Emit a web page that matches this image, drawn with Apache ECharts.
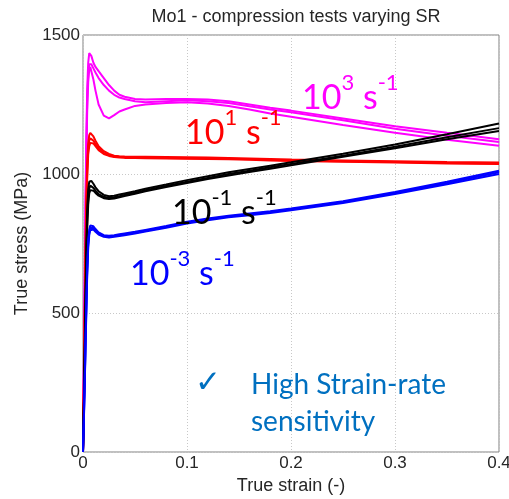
<!DOCTYPE html>
<html>
<head>
<meta charset="utf-8">
<script src="https://cdn.jsdelivr.net/npm/echarts@6/dist/echarts.min.js"></script>
<style>html,body{margin:0;padding:0;background:#fff}#c{width:509px;height:499px}</style>
</head>
<body>
<div id="c"></div>
<script>
// True strain (-)
var strain = [0, 0.001, 0.002, 0.003, 0.004, 0.005, 0.006, 0.007, 0.008, 0.01, 0.012, 0.015, 0.02, 0.025, 0.03, 0.035, 0.04, 0.05, 0.06, 0.08, 0.1, 0.12, 0.14, 0.16, 0.18, 0.2, 0.25, 0.3, 0.35, 0.4];
// True stress (MPa), 10^3 s^-1
var sr1e3_a = [0, 380, 760, 1080, 1300, 1400, 1435, 1440, 1425, 1400, 1385, 1370, 1345, 1320, 1300, 1285, 1278, 1270, 1268, 1270, 1270, 1268, 1262, 1250, 1238, 1228, 1200, 1172, 1148, 1125];
var sr1e3_b = [0, 350, 720, 1040, 1260, 1360, 1395, 1400, 1395, 1380, 1365, 1345, 1320, 1300, 1285, 1275, 1270, 1262, 1258, 1262, 1265, 1262, 1255, 1244, 1232, 1222, 1193, 1163, 1138, 1115];
var sr1e3_c = [0, 330, 680, 1000, 1220, 1330, 1375, 1385, 1370, 1340, 1300, 1250, 1210, 1200, 1212, 1225, 1232, 1245, 1250, 1255, 1258, 1254, 1245, 1232, 1218, 1206, 1176, 1148, 1123, 1102];
// 10^1 s^-1
var sr1e1_a = [0, 300, 620, 880, 1040, 1110, 1140, 1148, 1145, 1135, 1120, 1100, 1082, 1072, 1066, 1064, 1063, 1062, 1062, 1061, 1060, 1059, 1058, 1056, 1054, 1052, 1049, 1046, 1043, 1041];
var sr1e1_b = [0, 280, 580, 840, 1010, 1090, 1120, 1128, 1128, 1120, 1108, 1092, 1076, 1068, 1063, 1061, 1060, 1060, 1059, 1058, 1057, 1056, 1055, 1053, 1051, 1049, 1046, 1043, 1040, 1038];
var sr1e1_c = [0, 260, 550, 800, 980, 1070, 1100, 1112, 1115, 1110, 1100, 1086, 1072, 1065, 1061, 1059, 1058, 1058, 1057, 1056, 1055, 1054, 1053, 1051, 1049, 1047, 1044, 1041, 1038, 1036];
// 10^-1 s^-1
var sr1em1_a = [0, 220, 460, 700, 870, 945, 972, 978, 975, 965, 952, 938, 925, 920, 922, 926, 930, 938, 947, 962, 978, 992, 1006, 1018, 1030, 1042, 1073, 1106, 1143, 1182];
var sr1em1_b = [0, 200, 430, 660, 830, 915, 948, 958, 958, 950, 940, 928, 918, 914, 916, 920, 925, 933, 942, 957, 972, 986, 1000, 1012, 1024, 1036, 1066, 1098, 1132, 1165];
var sr1em1_c = [0, 190, 410, 630, 800, 890, 930, 942, 945, 940, 932, 922, 913, 910, 912, 916, 921, 929, 938, 953, 968, 982, 995, 1007, 1019, 1031, 1062, 1093, 1125, 1155];
// 10^-3 s^-1
var sr1em3_a = [0, 150, 320, 500, 660, 760, 800, 815, 818, 812, 802, 790, 780, 778, 780, 783, 786, 792, 799, 813, 828, 840, 850, 858, 866, 876, 902, 935, 972, 1012];
var sr1em3_b = [0, 140, 300, 470, 630, 735, 780, 798, 803, 800, 792, 782, 774, 772, 774, 777, 780, 786, 793, 807, 822, 834, 844, 852, 860, 870, 896, 928, 963, 1000];
var sr1em3_c = [0, 145, 310, 485, 645, 748, 790, 806, 810, 806, 797, 786, 777, 775, 777, 780, 783, 789, 796, 810, 825, 837, 847, 855, 863, 873, 899, 932, 968, 1006];

var xTicks = [0, 0.1, 0.2, 0.3, 0.4];
var yTicks = [0, 500, 1000, 1500];

var groups = [
  {color: '#FF00FF', sets: [sr1e3_a, sr1e3_b, sr1e3_c]},
  {color: '#FF0000', sets: [sr1e1_a, sr1e1_b, sr1e1_c]},
  {color: '#000000', sets: [sr1em1_a, sr1em1_b, sr1em1_c]},
  {color: '#0000FF', sets: [sr1em3_a, sr1em3_b, sr1em3_c]}
];

var series = [];
groups.forEach(function (g) {
  g.sets.forEach(function (vals) {
    series.push({
      type: 'line', showSymbol: false, symbol: 'none', animation: false,
      lineStyle: {color: g.color, width: 2},
      data: strain.map(function (s, i) { return [s, vals[i]]; })
    });
  });
});

function labelText(sup1) {
  return '{m|10}{s|' + sup1 + '}{m| s}{s|-1}';
}
function richFor(color) {
  return {
    m: {fontFamily: 'Lato', fontSize: 34, fill: color, color: color, lineHeight: 43, verticalAlign: 'bottom'},
    s: {fontFamily: 'Lato', fontSize: 22, fill: color, color: color, lineHeight: 24, verticalAlign: 'top'}
  };
}

var AX_FONT = '"Liberation Sans", Arial, Helvetica, sans-serif';

var chart = echarts.init(document.getElementById('c'), null, {renderer: 'canvas'});
chart.setOption({
  backgroundColor: '#fff',
  animation: false,
  textStyle: {fontFamily: AX_FONT},
  title: {
    text: 'Mo1 - compression tests varying SR',
    left: 291, top: 3, textAlign: 'center',
    textStyle: {fontFamily: AX_FONT, fontSize: 18, fontWeight: 'normal', color: '#262626'}
  },
  grid: {left: 83, right: 10, top: 35, bottom: 47, show: true, borderColor: '#808080', borderWidth: 1, containLabel: false, outerBoundsMode: 'none'},
  xAxis: {
    type: 'value', min: xTicks[0], max: xTicks[xTicks.length - 1], interval: 0.1,
    name: 'True strain (-)', nameLocation: 'middle', nameGap: 22,
    nameTextStyle: {fontFamily: AX_FONT, fontSize: 18, color: '#262626'},
    axisLine: {show: false}, axisTick: {show: false},
    axisLabel: {fontFamily: AX_FONT, fontSize: 17, color: '#262626', margin: 3, hideOverlap: false,
      formatter: function (v) { return String(Math.round(v * 10) / 10); }},
    splitLine: {show: true, lineStyle: {color: '#c8c8c8', type: [1, 2], width: 1}}
  },
  yAxis: {
    type: 'value', min: yTicks[0], max: yTicks[yTicks.length - 1], interval: 500,
    name: 'True stress (MPa)', nameLocation: 'middle', nameGap: 38,
    nameTextStyle: {fontFamily: AX_FONT, fontSize: 18, color: '#262626'},
    axisLine: {show: false}, axisTick: {show: false},
    axisLabel: {fontFamily: AX_FONT, fontSize: 17, color: '#262626', margin: 3,
      formatter: function (v) { return String(v); }},
    splitLine: {show: true, lineStyle: {color: '#c8c8c8', type: [1, 2], width: 1}}
  },
  series: series,
  graphic: [
    {type: 'text', x: 302, y: 72, z: 100, style: {text: labelText('3'), rich: richFor('#FF00FF'), align: 'left', verticalAlign: 'top'}},
    {type: 'text', x: 185, y: 107, z: 100, style: {text: labelText('1'), rich: richFor('#FF0000'), align: 'left', verticalAlign: 'top'}},
    {type: 'text', x: 172, y: 187, z: 100, style: {text: labelText('-1'), rich: richFor('#000000'), align: 'left', verticalAlign: 'top'}},
    {type: 'text', x: 130, y: 248, z: 100, style: {text: labelText('-3'), rich: richFor('#0000FF'), align: 'left', verticalAlign: 'top'}},
    {type: 'text', x: 195, y: 368, z: 100, style: {text: '\u2713', font: 'bold 31px "DejaVu Sans"', fill: '#0070C0', align: 'left', verticalAlign: 'top'}},
    {type: 'text', x: 251, y: 366, z: 100, style: {text: 'High Strain-rate\nsensitivity', font: '28px Lato', lineHeight: 37, fill: '#0070C0', align: 'left', verticalAlign: 'top'}}
  ]
});
</script>
</body>
</html>
